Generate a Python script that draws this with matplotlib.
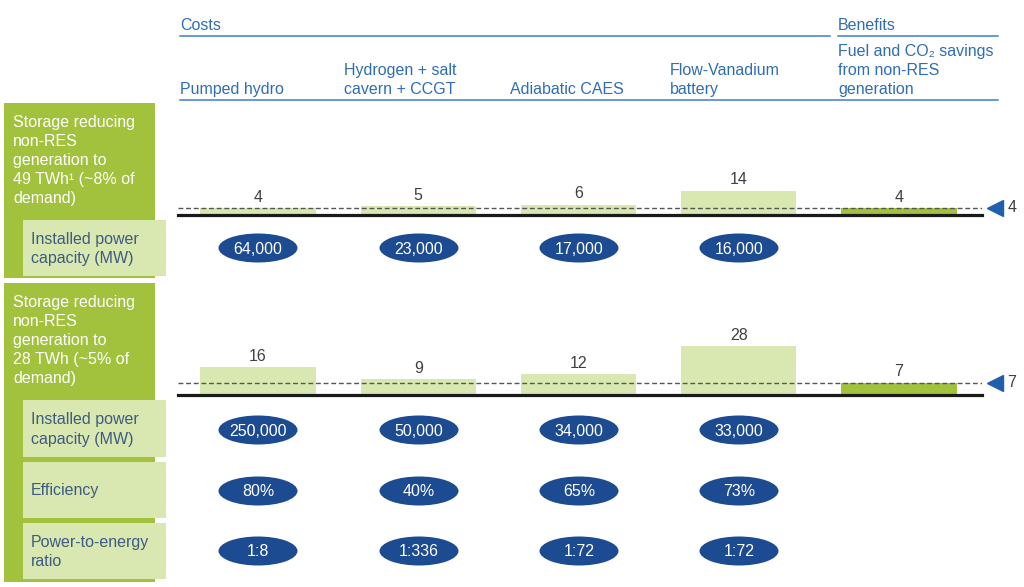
import matplotlib.pyplot as plt
from matplotlib.patches import Rectangle, Ellipse

# Chart data
technologies = ["Pumped hydro", "Hydrogen + salt\ncavern + CCGT", "Adiabatic CAES", "Flow-Vanadium\nbattery"]
benefit_label = "Fuel and CO\u2082 savings\nfrom non-RES\ngeneration"
costs_49twh = [4, 5, 6, 14]
benefit_49twh = 4
costs_28twh = [16, 9, 12, 28]
benefit_28twh = 7
capacity_49twh = ["64,000", "23,000", "17,000", "16,000"]
capacity_28twh = ["250,000", "50,000", "34,000", "33,000"]
efficiency = ["80%", "40%", "65%", "73%"]
p2e_ratio = ["1:8", "1:336", "1:72", "1:72"]

scenario_labels = ["Storage reducing\nnon-RES\ngeneration to\n49 TWh\u00b9 (~8% of\ndemand)",
                   "Storage reducing\nnon-RES\ngeneration to\n28 TWh (~5% of\ndemand)"]
row_labels = ["Installed power\ncapacity (MW)", "Efficiency", "Power-to-energy\nratio"]

# Colours
DARK_GREEN = "#a2c13c"
LIGHT_GREEN = "#d9e8b0"
HEAD_BLUE = "#2f6db5"
LINE_BLUE = "#3f7fc8"
OVAL_BLUE = "#1d4b91"
SLATE = "#3e5b82"
GREY = "#404040"

plt.rcParams['font.family'] = ['Liberation Sans', 'DejaVu Sans']
W, H = 1024, 587
fig = plt.figure(figsize=(W / 100, H / 100), dpi=100)

# overlay axes in pixel coordinates for the table furniture
ax = fig.add_axes([0, 0, 1, 1])
ax.set_xlim(0, W)
ax.set_ylim(H, 0)
ax.axis('off')

col_x = [258, 419, 579, 739, 899]
head_x = [180, 344, 510, 670, 838]
FS = 11.5
LS = 1.34

# header
ax.text(180, 25, "Costs", color=HEAD_BLUE, fontsize=FS, va='center')
ax.text(838, 25, "Benefits", color=HEAD_BLUE, fontsize=FS, va='center')
ax.plot([180, 830], [36, 36], color=LINE_BLUE, lw=1.1)
ax.plot([838, 998], [36, 36], color=LINE_BLUE, lw=1.1)
ax.plot([180, 998], [100, 100], color=LINE_BLUE, lw=1.1)
for x, name in zip(head_x, technologies + [benefit_label]):
    ax.text(x, 97, name, color=HEAD_BLUE, fontsize=FS, va='bottom', ha='left', linespacing=LS)

# left-hand boxes
ax.add_patch(Rectangle((4, 103), 151, 175, color=DARK_GREEN, lw=0))
ax.add_patch(Rectangle((4, 283), 151, 299, color=DARK_GREEN, lw=0))
ax.text(13, 115, scenario_labels[0], color='white', fontsize=FS, va='top', linespacing=LS)
ax.text(13, 295, scenario_labels[1], color='white', fontsize=FS, va='top', linespacing=LS)

light_boxes = [(220, 276, row_labels[0]), (400, 457, row_labels[0]),
               (462, 518, row_labels[1]), (523, 579, row_labels[2])]
for top, bottom, label in light_boxes:
    ax.add_patch(Rectangle((23, top), 143, bottom - top, color=LIGHT_GREEN, lw=0))
    ax.text(31, (top + bottom) / 2 + 1, label, color=SLATE, fontsize=FS, va='center', linespacing=LS)

# blue ovals
oval_rows = [(248, capacity_49twh), (430, capacity_28twh), (491, efficiency), (551, p2e_ratio)]
for cy, values in oval_rows:
    for cx, v in zip(col_x, values):
        ax.add_patch(Ellipse((cx, cy), 79, 29, color=OVAL_BLUE, lw=0))
        ax.text(cx, cy + 1, v, color='white', fontsize=FS, ha='center', va='center')

# bar panels
px_per_col = (col_x[-1] - col_x[0]) / 4
x_left, x_right = 178, 982


def bar_panel(baseline_px, costs, benefit):
    axb = fig.add_axes([x_left / W, (H - baseline_px) / H, (x_right - x_left) / W, 70 / H])
    axb.set_xlim(-(col_x[0] - x_left) / px_per_col, 4 + (x_right - col_x[-1]) / px_per_col)
    axb.set_ylim(0, 40)
    axb.axis('off')
    axb.patch.set_alpha(0)
    values = costs + [benefit]
    colors = [LIGHT_GREEN] * len(costs) + [DARK_GREEN]
    bars = axb.bar(range(len(values)), values, width=0.72, color=colors, zorder=1)
    for b, v in zip(bars, values):
        axb.annotate(str(v), (b.get_x() + b.get_width() / 2, v), xytext=(0, 2.5),
                     textcoords='offset points', ha='center', va='bottom',
                     fontsize=FS, color=GREY)
    axb.axhline(benefit, color='#555555', lw=1, dashes=(3.5, 2), zorder=2)
    axb.axhline(0, color='#1a1a1a', lw=2.3, zorder=3, clip_on=False)
    xt = 4 + (995 - col_x[-1]) / px_per_col
    axb.plot([xt], [benefit], marker='<', ms=12, color='#1f5fad', clip_on=False)
    axb.annotate(str(benefit), (xt, benefit), xytext=(9, 0), textcoords='offset points',
                 ha='left', va='center', fontsize=FS, color=GREY, annotation_clip=False)
    return axb


bar_panel(215, costs_49twh, benefit_49twh)
bar_panel(395, costs_28twh, benefit_28twh)

fig.savefig("out.png", dpi=100)
